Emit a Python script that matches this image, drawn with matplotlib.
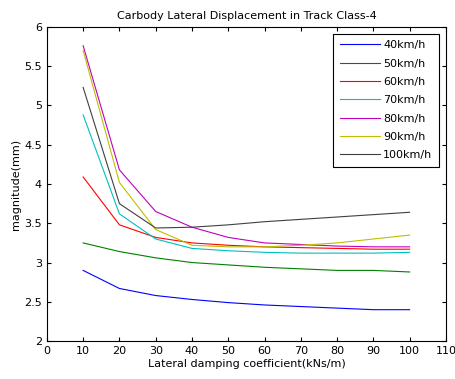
import matplotlib
matplotlib.use('Agg')
import matplotlib.pyplot as plt

damping = [10, 20, 30, 40, 50, 60, 70, 80, 90, 100]
labels = ['40km/h', '50km/h', '60km/h', '70km/h', '80km/h', '90km/h', '100km/h']
colors = ['#0000ff', '#008000', '#ff0000', '#00bfbf', '#bf00bf', '#bfbf00', '#404040']

v40 = [2.90, 2.67, 2.58, 2.53, 2.49, 2.46, 2.44, 2.42, 2.40, 2.40]
v50 = [3.25, 3.14, 3.06, 3.00, 2.97, 2.94, 2.92, 2.90, 2.90, 2.88]
v60 = [4.09, 3.48, 3.32, 3.25, 3.22, 3.20, 3.19, 3.18, 3.17, 3.17]
v70 = [4.88, 3.62, 3.30, 3.18, 3.15, 3.13, 3.12, 3.12, 3.12, 3.13]
v80 = [5.76, 4.18, 3.65, 3.45, 3.32, 3.25, 3.23, 3.21, 3.20, 3.20]
v90 = [5.70, 4.02, 3.42, 3.22, 3.20, 3.20, 3.22, 3.25, 3.30, 3.35]
v100 = [5.23, 3.75, 3.44, 3.45, 3.48, 3.52, 3.55, 3.58, 3.61, 3.64]
series = [v40, v50, v60, v70, v80, v90, v100]

plt.rcParams['font.size'] = 8
fig = plt.figure(figsize=(4.55, 3.79), dpi=100)
ax = fig.add_axes([0.103, 0.1, 0.877, 0.829])

for vals, lab, col in zip(series, labels, colors):
    ax.plot(damping, vals, color=col, linewidth=0.8, label=lab)

ax.set_xlim(0, 110)
ax.set_ylim(2, 6)
ax.set_xticks(range(0, 111, 10))
ax.set_yticks([2, 2.5, 3, 3.5, 4, 4.5, 5, 5.5, 6])
ax.set_yticklabels(['2', '2.5', '3', '3.5', '4', '4.5', '5', '5.5', '6'])
ax.tick_params(direction='in', top=True, right=True, length=3, labelsize=8)
for s in ax.spines.values():
    s.set_linewidth(0.8)

ax.set_title('Carbody Lateral Displacement in Track Class-4', fontsize=8)
ax.set_xlabel('Lateral damping coefficient(kNs/m)', fontsize=8, labelpad=2)
ax.set_ylabel('magnitude(mm)', fontsize=8, labelpad=2)

leg = ax.legend(loc='upper right', fontsize=8, fancybox=False, framealpha=1,
                edgecolor='black', borderaxespad=0.6, handlelength=3.6,
                labelspacing=0.75, handletextpad=0.3, borderpad=0.6)
leg.get_frame().set_linewidth(0.8)

fig.savefig('out.png', dpi=100)
